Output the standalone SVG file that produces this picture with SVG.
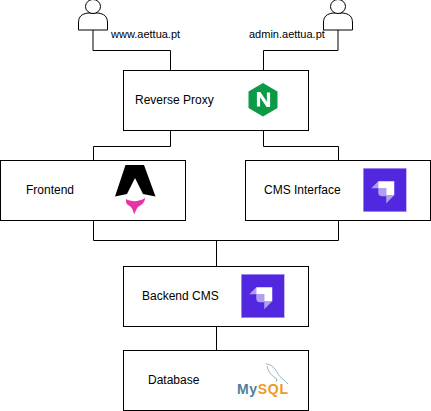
<svg xmlns="http://www.w3.org/2000/svg" width="431" height="411" viewBox="0 0 431 411">
<style>
.box{fill:#fff;stroke:#000;stroke-width:1}
.wire{fill:none;stroke:#000;stroke-width:1}
.user{fill:#fff;stroke:#000;stroke-width:1}
text{font-family:"Liberation Sans",Arial,sans-serif;fill:#000}
.lab{font-size:12px}
.small{font-size:11px}
.my{font-size:14px;font-weight:700;fill:#4f7f9e}
.sql{fill:#ee9a22}
</style>
<defs>
<g id="strapi">
<rect width="43" height="43.500" fill="#5128e0" stroke="#b9a8f2" stroke-width=".5"/>
<path d="M15 13H31V27H23V20H15Z" fill="#fff"/>
<path d="M15 13V20H8Z" fill="#fff" fill-opacity=".55"/>
<path d="M15 20H23V28H19A4 4 0 0 1 15 24Z" fill="#fff" fill-opacity=".55"/>
<path d="M23 27H31L23 35Z" fill="#fff" fill-opacity=".55"/>
</g>
<g id="person">
<path d="M-14.500 30V23C-14.500 16 -11 14 -5 13H5C11 14 14.500 16 14.500 23V30Z" class="user"/>
<ellipse cx="0" cy="6.500" rx="7.500" ry="7" class="user"/>
</g>
</defs>
<g id="connectors">
<path class="wire" d="M93 30V50.500H170.500V70.500"/>
<path class="wire" d="M338 30V50.500H263.500V70.500"/>
<path class="wire" d="M170.500 130.500V146.500H93.500V160.500"/>
<path class="wire" d="M263.500 130.500V146.500H338.500V160.500"/>
<path class="wire" d="M93.500 220.500V240.500H338.500V220.500"/>
<path class="wire" d="M216.500 240.500V266.500"/>
<path class="wire" d="M216.500 326.500V350.500"/>
</g>
<g id="user-www"><use href="#person" x="93" y="0"/><text class="small" x="111" y="38">www.aettua.pt</text></g>
<g id="user-admin"><use href="#person" x="338" y="0"/><text class="small" x="249" y="38">admin.aettua.pt</text></g>
<g id="proxy">
<rect class="box" x="123.500" y="70.500" width="185" height="60"/>
<text class="lab" x="135" y="104">Reverse Proxy</text>
<path d="M263 83L277.500 91.500V108L263 116.500L248.500 108V91.500Z" fill="#0b9a45"/>
<path d="M258.500 106.500V93.500H259.500L267.500 105.500H268.500V92.500" fill="none" stroke="#fff" stroke-width="3.200"/>
</g>
<g id="frontend">
<rect class="box" x="0.500" y="160.500" width="185" height="60"/>
<text class="lab" x="26" y="194">Frontend</text>
<path d="M125.500 165H144L155.500 196.500L143 194L135 178L127 194L115 196.500Z" fill="#000"/>
<path d="M126 199C131 202 139 202 145 198C145 203 141 205 138 207C136 209 135 214 134 214C133 209 131 206 128 205C126 204 126 202 126 199Z" fill="#e832a8"/>
</g>
<g id="cms">
<rect class="box" x="245.500" y="160.500" width="185" height="60"/>
<text class="lab" x="264" y="194">CMS Interface</text>
<use href="#strapi" x="363.250" y="168.250"/>
</g>
<g id="backend">
<rect class="box" x="123.500" y="266.500" width="185" height="60"/>
<text class="lab" x="142" y="300">Backend CMS</text>
<use href="#strapi" x="241.250" y="274.250"/>
</g>
<g id="database">
<rect class="box" x="123.500" y="350.500" width="185" height="60"/>
<text class="lab" x="148" y="384">Database</text>
<text class="my" x="237" y="394" textLength="51">My<tspan class="sql">SQL</tspan></text>
<path d="M266 364C271 364 276 369 278 374C280 378 285 380 288 384M267 366C268 372 272 376 277 379M277 379L276 382" fill="none" stroke="#7d9fb6" stroke-width=".8"/>
</g>
</svg>
